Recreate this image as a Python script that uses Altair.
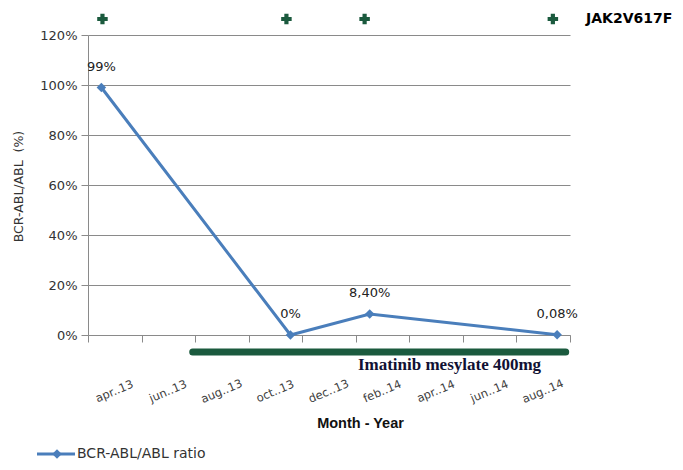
import altair as alt
import pandas as pd

# ---- data ----
month_labels = ["apr..13", "jun..13", "aug..13", "oct..13", "dec..13",
                "feb..14", "apr..14", "jun..14", "aug..14"]
month_label_pos = [1, 3, 5, 7, 9, 11, 13, 15, 17]          # months since Apr 2013 (band centres)
axis_tick_pos = [0, 2, 4, 6, 8, 10, 12, 14, 16, 18]

point_month = [0.5, 7.56, 10.52, 17.52]
ratio = [0.99, 0.0, 0.084, 0.0008]
ratio_text = ["99%", "0%", "8,40%", "0,08%"]
series_name = "BCR-ABL/ABL ratio"

jak2_month = [0.54, 7.41, 10.33, 17.36]
jak2_label = "JAK2V617F"

imatinib_start = [3.91]
imatinib_end = [17.84]
imatinib_label = ["Imatinib mesylate 400mg"]
imatinib_label_month = [13.5]

y_ticks = [0, 0.2, 0.4, 0.6, 0.8, 1.0, 1.2]

# ---- tables ----
df = pd.DataFrame({"month": point_month, "ratio": ratio, "txt": ratio_text})
df_jak = pd.DataFrame({"month": jak2_month})
df_jak_lbl = pd.DataFrame({"t": [jak2_label]})
df_ima = pd.DataFrame({"start": imatinib_start, "end": imatinib_end})
df_ima_lbl = pd.DataFrame({"month": imatinib_label_month, "t": imatinib_label})
df_months = pd.DataFrame({"month": month_label_pos, "lbl": month_labels})
df_leg = pd.DataFrame({"t": [series_name]})

BLUE = "#4a7ebb"
GREEN = "#1b5a3e"
GRID = "#8a8a8a"

xscale = alt.Scale(domain=[0, 18], nice=False, zero=False)
yscale = alt.Scale(domain=[0, 1.2], nice=False)

x_axis = alt.Axis(values=axis_tick_pos, labels=False, grid=False, tickSize=7,
                  tickColor=GRID, domainColor=GRID, title="Month - Year",
                  titleFont="Liberation Sans", titleFontSize=14.5, titleFontWeight="bold",
                  titleColor="#111111", titleX=272, titleY=88, titleAlign="center",
                  titleBaseline="middle")
y_axis = alt.Axis(values=y_ticks, format=".0%", grid=True, gridColor=GRID,
                  tickColor=GRID, domainColor=GRID, tickSize=7, labelPadding=4,
                  labelFont="DejaVu Sans", labelFontSize=13, labelColor="#333333",
                  title="BCR-ABL/ABL\u00a0\u00a0(%)", titleFont="DejaVu Sans", titleFontSize=12.5,
                  titleFontWeight="normal", titleColor="#333333", titleAngle=270,
                  titleX=-70, titleY=151, titleAlign="center", titleBaseline="middle")

line = alt.Chart(df).mark_line(
    strokeWidth=3, color=BLUE,
    point=alt.OverlayMarkDef(shape="diamond", size=90, filled=True, color=BLUE)
).encode(
    x=alt.X("month:Q", scale=xscale, axis=x_axis),
    y=alt.Y("ratio:Q", scale=yscale, axis=y_axis),
)

labels = alt.Chart(df).mark_text(
    dy=-21, font="DejaVu Sans", fontSize=13, color="#222222", baseline="middle"
).encode(
    x=alt.X("month:Q", scale=xscale),
    y=alt.Y("ratio:Q", scale=yscale),
    text="txt:N",
)

jak = alt.Chart(df_jak).mark_point(
    shape="cross", filled=True, size=110, color=GREEN, opacity=1
).encode(
    x=alt.X("month:Q", scale=xscale),
    y=alt.value(-16),
)

jak_lbl = alt.Chart(df_jak_lbl).mark_text(
    align="left", baseline="middle", font="DejaVu Sans", fontWeight="bold",
    fontSize=14, color="#000000"
).encode(x=alt.value(498), y=alt.value(-16), text="t:N")

ima = alt.Chart(df_ima).mark_rule(
    strokeWidth=7, strokeCap="round", color=GREEN
).encode(
    x=alt.X("start:Q", scale=xscale),
    x2="end:Q",
    y=alt.value(317),
)

ima_lbl = alt.Chart(df_ima_lbl).mark_text(
    font="Liberation Serif", fontWeight="bold", fontSize=17, color="#111133",
    baseline="middle", align="center"
).encode(
    x=alt.X("month:Q", scale=xscale),
    y=alt.value(330),
    text="t:N",
)

months = alt.Chart(df_months).mark_text(
    angle=337, font="DejaVu Sans", fontSize=11.5, color="#404040",
    align="center", baseline="middle"
).encode(
    x=alt.X("month:Q", scale=xscale),
    y=alt.value(357),
    text="lbl:N",
)

# legend (line + diamond + label) below the chart
LEG_Y = 419
leg_line = alt.Chart(df_leg).mark_rule(strokeWidth=3, color=BLUE).encode(
    x=alt.value(-51), x2=alt.value(-13), y=alt.value(LEG_Y))
leg_pt = alt.Chart(df_leg).mark_point(shape="diamond", size=90, filled=True,
                                      color=BLUE, opacity=1).encode(
    x=alt.value(-31), y=alt.value(LEG_Y))
leg_txt = alt.Chart(df_leg).mark_text(
    align="left", baseline="middle", font="DejaVu Sans", fontSize=14, color="#333333"
).encode(x=alt.value(-11), y=alt.value(LEG_Y), text="t:N")

chart = alt.layer(ima, line, labels, jak, jak_lbl, ima_lbl, months,
                  leg_line, leg_pt, leg_txt).properties(
    width=482, height=300,
    autosize=alt.AutoSizeParams(type="none"),
    padding={"left": 80, "top": 27, "right": 105, "bottom": 127},
    background="white",
).configure_view(stroke=None)

chart.save("out.html", embed_options={"renderer": "svg", "actions": False})
